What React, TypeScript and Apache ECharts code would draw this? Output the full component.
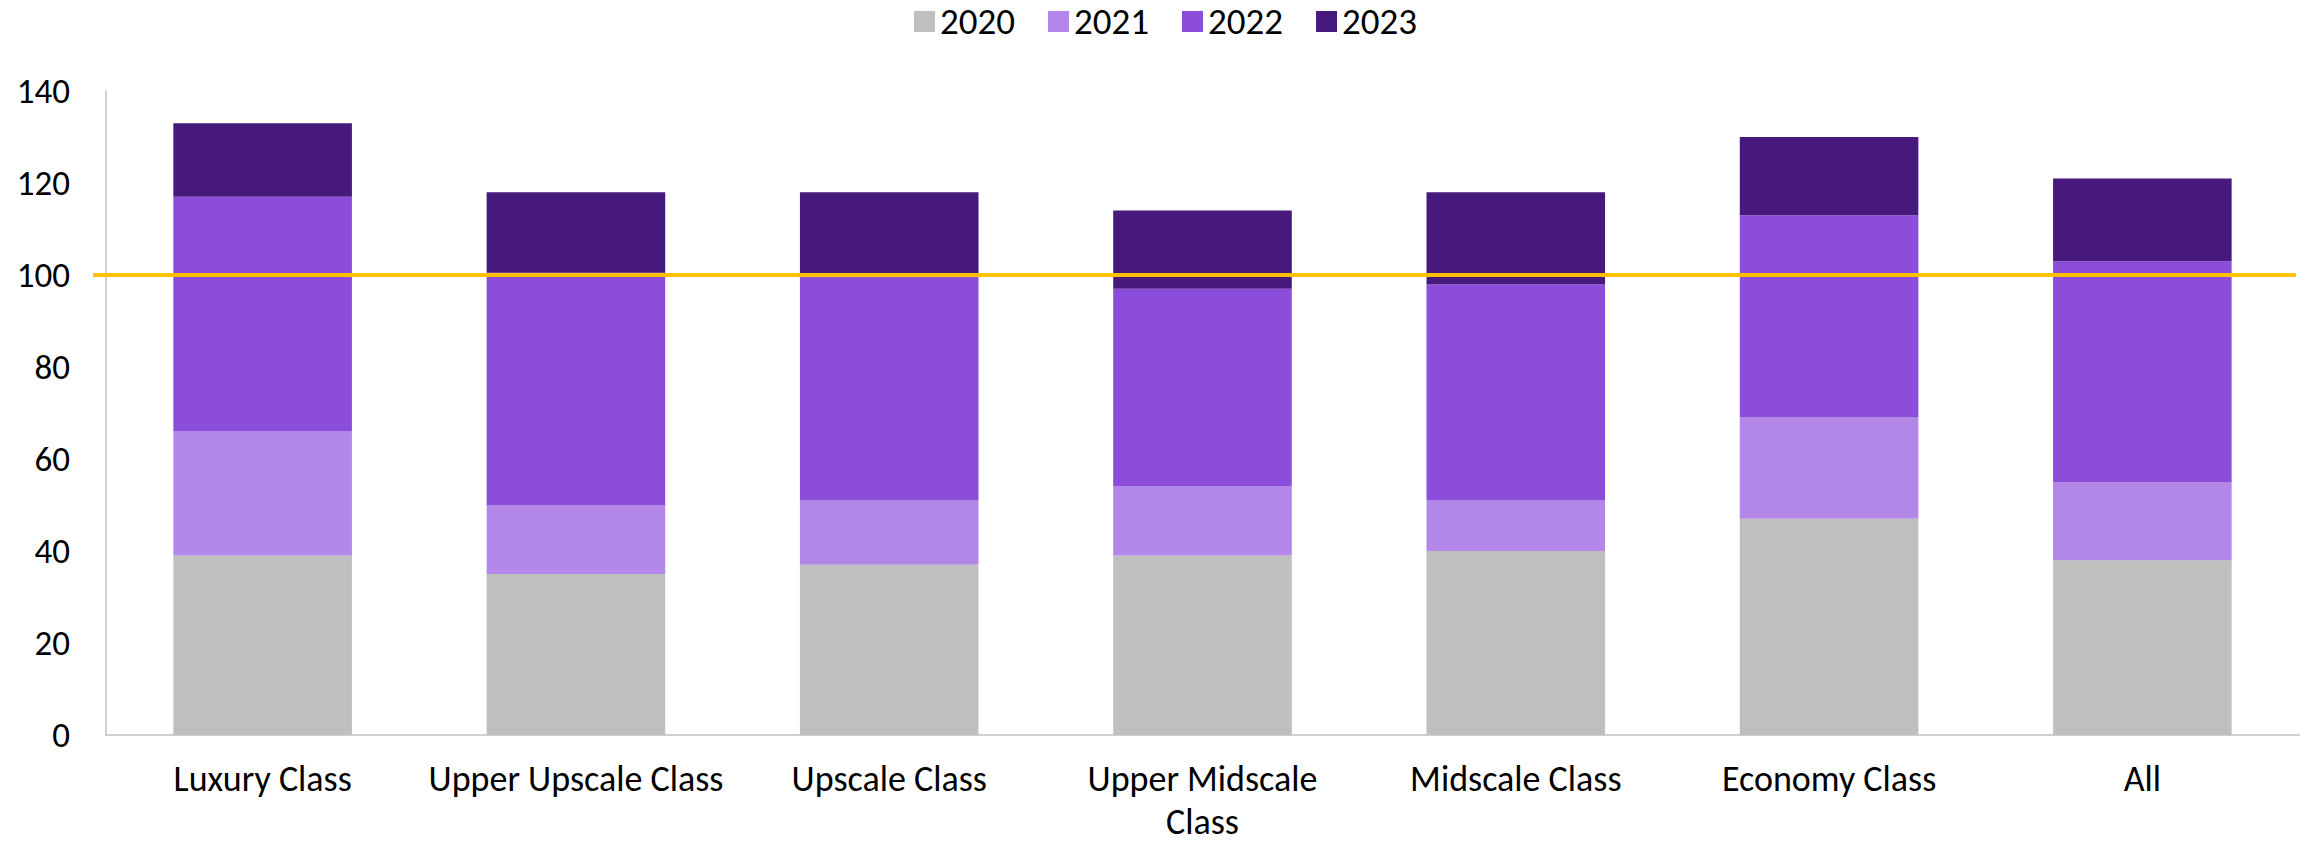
import React, { useEffect, useRef } from "react";
import * as echarts from "echarts";

const categories = [
  "Luxury Class",
  "Upper Upscale Class",
  "Upscale Class",
  "Upper Midscale Class",
  "Midscale Class",
  "Economy Class",
  "All",
];
const seriesNames = ["2020", "2021", "2022", "2023"];
const values2020 = [39, 35, 37, 39, 40, 47, 38];
const values2021 = [27, 15, 14, 15, 11, 22, 17];
const values2022 = [51, 50.5, 48.5, 43, 47, 44, 48];
const values2023 = [16, 17.5, 18.5, 17, 20, 17, 18];
const colors = ["#BFBFBF", "#B387E7", "#8C4DDB", "#48197C"];
const referenceValue = 100;
const yTicks = { min: 0, max: 140, interval: 20 };

const FONT = "Carlito, Lato, 'Open Sans', sans-serif";

export default function App() {
  const ref = useRef<HTMLDivElement>(null);

  useEffect(() => {
    document.body.style.margin = "0";
    if (!ref.current) return;
    const chart = echarts.init(ref.current, undefined, { renderer: "svg" });
    const allValues = [values2020, values2021, values2022, values2023];
    const series: any[] = allValues.map((vals, i) => ({
      name: seriesNames[i],
      type: "bar",
      stack: "total",
      data: vals,
      barCategoryGap: "43%",
      itemStyle: { color: colors[i] },
      emphasis: { disabled: true },
    }));
    series[0].markLine = {
      silent: true,
      symbol: "none",
      label: { show: false },
      lineStyle: { color: "#FFC000", width: 4, type: "solid" },
      data: [
        [
          { yAxis: referenceValue, x: 93 },
          { yAxis: referenceValue, x: 2296 },
        ],
      ],
    };
    chart.setOption({
      animation: false,
      textStyle: { fontFamily: FONT },
      legend: {
        top: 3,
        left: 914,
        padding: 0,
        itemWidth: 21,
        itemHeight: 21,
        itemGap: 33,
        icon: "rect",
        data: seriesNames,
        textStyle: { fontSize: 37, color: "#000", fontFamily: FONT },
      },
      grid: {
        left: 106,
        right: 3,
        top: 91,
        bottom: 110,
        containLabel: false,
        outerBoundsMode: "none",
      },
      xAxis: {
        type: "category",
        data: categories,
        axisLine: { show: true, lineStyle: { color: "#D0D0D0", width: 2 } },
        axisTick: { show: false },
        axisLabel: {
          interval: 0,
          fontSize: 36,
          color: "#000",
          fontFamily: FONT,
          margin: 21,
          lineHeight: 46,
          formatter: (v: string) =>
            v === "Upper Midscale Class" ? "Upper Midscale\n{b|Class}" : v,
          rich: {
            b: { fontSize: 36, color: "#000", fontFamily: FONT, lineHeight: 40 },
          },
        },
      },
      yAxis: {
        type: "value",
        min: yTicks.min,
        max: yTicks.max,
        interval: yTicks.interval,
        axisLine: { show: true, lineStyle: { color: "#D0D0D0", width: 2 } },
        axisTick: { show: false },
        splitLine: { show: false },
        axisLabel: { fontSize: 35, color: "#000", fontFamily: FONT, margin: 36 },
      },
      series,
    });
    return () => chart.dispose();
  }, []);

  return (
    <div
      ref={ref}
      style={{ position: "absolute", left: 0, top: 0, width: 2302, height: 845 }}
    />
  );
}
